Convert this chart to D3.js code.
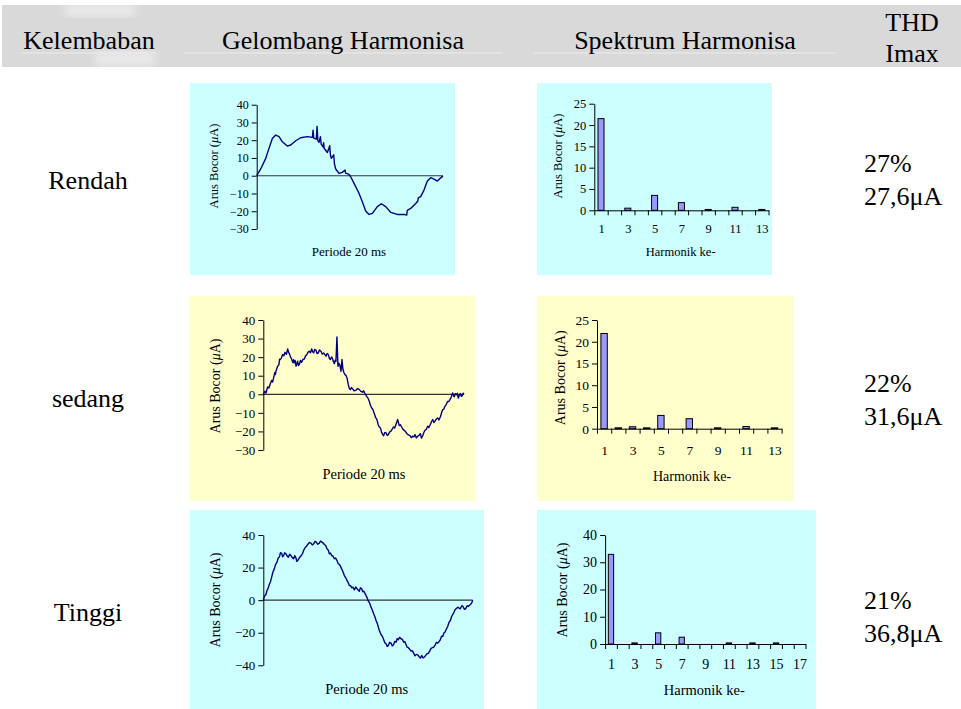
<!DOCTYPE html>
<html lang="id">
<head>
<meta charset="utf-8">
<title>Gelombang dan Spektrum Harmonisa Arus Bocor</title>
<script src="https://d3js.org/d3.v7.min.js"></script>
<style>
  body { margin: 0; background: #fff; }
  svg text { font-family: "Liberation Serif", "Times New Roman", serif; }
</style>
</head>
<body>
<svg id="chart" width="961" height="709" font-family="Liberation Serif, Times New Roman, serif"></svg>
<script>
// ---- data ----
const rowLabels = ["Rendah", "sedang", "Tinggi"];
const thdValues = ["27%", "22%", "21%"];
const imaxValues = ["27,6\u03bcA", "31,6\u03bcA", "36,8\u03bcA"];
const headerLabels = ["Kelembaban", "Gelombang Harmonisa", "Spektrum Harmonisa"];

// waveform: [time in ms, current in uA]
const waveRendah = [[0,0],[0.43,3.8],[0.97,9.8],[1.32,15.4],[1.68,21],[2.04,22.9],[2.4,22],[2.75,19.1],[3.29,16.7],[3.65,17.3],[4.19,19.7],[4.72,21.4],[5.44,22],[5.98,21.6],[6.05,25.7],[6.12,21.2],[6.4,20.6],[6.48,27.8],[6.56,19.8],[6.69,18.8],[6.84,22],[6.92,17.8],[7.12,16.2],[7.18,18.6],[7.25,15.3],[7.59,13.1],[7.84,16.9],[7.92,11.5],[8.01,9.8],[8.27,11.8],[8.35,6.5],[8.48,3.8],[8.84,1.3],[9.19,1.9],[9.48,3.2],[9.55,1.5],[9.91,0.8],[10.09,-0.6],[10.45,-4.3],[10.98,-9.9],[11.34,-14.6],[11.7,-19.9],[12.06,-21.8],[12.42,-21.2],[12.95,-17.4],[13.38,-15.8],[13.85,-17.4],[14.38,-20.6],[15.1,-21.8],[15.81,-21.8],[16.1,-22.2],[16.17,-19.5],[16.53,-18.4],[17.07,-15.6],[17.3,-14.2],[17.35,-12.5],[17.6,-11.8],[17.96,-8.1],[18.32,-3],[18.68,-1.1],[19.04,-1.9],[19.39,-3],[19.68,-1.5],[20,-0.2]];
const waveSedang = [[0,0],[0.17,1.6],[0.27,0.7],[0.43,4],[0.56,3.4],[0.7,5.7],[0.83,7.5],[0.93,6.6],[1.03,8.8],[1.15,11.8],[1.2,10.6],[1.26,12.4],[1.43,15.1],[1.56,16],[1.62,18.9],[1.69,18.7],[1.8,19.5],[1.93,21.4],[2.05,20.8],[2.16,22.6],[2.3,21.5],[2.43,24.4],[2.52,22.6],[2.59,21.9],[2.7,20.3],[2.82,19],[2.95,17.1],[3.02,18.6],[3.09,16.9],[3.18,18.2],[3.26,15.1],[3.35,16.5],[3.42,17.8],[3.5,15.5],[3.59,16],[3.7,18.2],[3.82,17.2],[3.95,18.8],[4.09,19],[4.2,20.6],[4.35,21.4],[4.45,22.6],[4.58,23.2],[4.7,22.4],[4.82,24.4],[4.92,22.9],[5.02,22.3],[5.12,24.2],[5.25,23.7],[5.35,21.9],[5.48,22.3],[5.6,23.8],[5.75,23.2],[5.88,21.6],[6.01,22.3],[6.12,21.5],[6.25,20.5],[6.36,22],[6.48,21.4],[6.58,19.4],[6.68,18.7],[6.8,20.1],[6.91,19],[7.0,17.4],[7.08,16.5],[7.16,18.3],[7.24,17.8],[7.34,30.9],[7.44,15.1],[7.52,16.8],[7.61,16],[7.68,14.2],[7.74,12.4],[7.84,18.7],[7.94,13.3],[8.04,11.6],[8.14,10.6],[8.24,10.2],[8.34,8.8],[8.4,7.2],[8.47,5.2],[8.57,3.2],[8.67,2.5],[8.78,3.6],[8.9,2.9],[9.05,1.8],[9.24,2.2],[9.4,3.1],[9.57,2.5],[9.72,1.6],[9.9,1.1],[10.0,1.9],[10.13,0.4],[10.23,-0.5],[10.33,-1.4],[10.45,-2.2],[10.56,-3.8],[10.68,-5.9],[10.8,-7.4],[10.92,-8.2],[11.06,-10.4],[11.2,-12.6],[11.33,-13.6],[11.45,-16.4],[11.56,-17.6],[11.68,-18.2],[11.79,-20.5],[11.89,-21.6],[11.99,-22.3],[12.1,-20.6],[12.23,-20.8],[12.35,-22.1],[12.46,-21.7],[12.6,-20.2],[12.72,-19.9],[12.85,-18.7],[12.99,-17.6],[13.1,-18.2],[13.22,-16.3],[13.39,-13.6],[13.55,-16.9],[13.67,-16.4],[13.79,-17.6],[13.92,-18.9],[14.05,-19.4],[14.2,-20.3],[14.32,-21.2],[14.47,-21.9],[14.62,-22.3],[14.75,-23.4],[14.88,-22.6],[15.0,-22.9],[15.12,-21.7],[15.25,-23.5],[15.38,-22.6],[15.52,-22.1],[15.65,-21.2],[15.76,-23.6],[15.88,-22.3],[16.0,-20.6],[16.11,-19.4],[16.25,-18.8],[16.38,-17.2],[16.5,-17.9],[16.64,-16.3],[16.76,-14.8],[16.88,-13.6],[17.0,-15.2],[17.11,-14.5],[17.24,-13.4],[17.37,-12.7],[17.5,-13.8],[17.64,-12.2],[17.76,-10.1],[17.87,-8.3],[17.98,-8.1],[18.1,-6.5],[18.24,-5.4],[18.37,-3.8],[18.5,-3.9],[18.64,-2.5],[18.75,-1.2],[18.87,0.7],[19.03,-1.4],[19.13,0.3],[19.23,-0.2],[19.33,0.5],[19.43,-2],[19.53,-0.6],[19.63,0.4],[19.73,-1.1],[19.83,-0.7],[19.92,0.6],[20,0]];
const waveTinggi = [[0,0],[0.08,1.8],[0.16,2.9],[0.25,3.5],[0.35,5.9],[0.46,7.2],[0.57,9.6],[0.68,11.2],[0.8,14.1],[0.92,17.3],[1.05,19.2],[1.18,22],[1.31,23.3],[1.42,25.9],[1.53,26.4],[1.64,29.2],[1.75,28.8],[1.85,26.6],[1.94,27.4],[2.05,29.1],[2.17,28.4],[2.28,27.1],[2.39,26.4],[2.52,28.2],[2.64,27.4],[2.77,26.1],[2.9,25.4],[3.0,27.3],[3.12,26],[3.2,23.8],[3.28,24.3],[3.4,25.5],[3.54,26.8],[3.65,27.6],[3.76,28.8],[3.87,30.8],[3.98,32.1],[4.1,32.9],[4.24,34.2],[4.4,35.4],[4.55,35],[4.68,33.9],[4.81,34.6],[4.94,36.1],[5.06,35.6],[5.2,34.3],[5.35,35],[5.46,36.3],[5.57,35.8],[5.7,35.2],[5.83,34.2],[5.96,33.5],[6.08,31.5],[6.2,30.8],[6.31,28.4],[6.42,28.9],[6.53,27.4],[6.65,27.1],[6.78,25.4],[6.9,25.9],[7.04,24.3],[7.15,22.5],[7.26,21.9],[7.37,20.9],[7.48,19.2],[7.6,17.6],[7.74,15.1],[7.86,13.9],[7.99,12.1],[8.1,10.9],[8.22,9],[8.33,8.9],[8.44,7.6],[8.57,7.9],[8.7,6.3],[8.82,8.1],[8.95,7],[9.06,6.2],[9.17,5.5],[9.28,7.6],[9.4,7],[9.5,5.2],[9.59,5.5],[9.7,4.3],[9.81,2.9],[9.92,1.4],[10.03,-0.6],[10.16,-1.9],[10.29,-4.3],[10.42,-6.2],[10.54,-8.4],[10.66,-10.2],[10.77,-12.5],[10.88,-14.1],[10.99,-16.6],[11.12,-19.3],[11.24,-21.1],[11.37,-22.2],[11.5,-24.3],[11.61,-26.1],[11.72,-26.8],[11.83,-28.4],[11.94,-27.8],[12.07,-25.9],[12.2,-26.4],[12.32,-28.1],[12.45,-27.2],[12.56,-25.3],[12.68,-25.8],[12.79,-23.6],[12.9,-24.3],[13.02,-22.8],[13.15,-23.7],[13.28,-24.1],[13.41,-25.8],[13.52,-25.4],[13.63,-27.2],[13.74,-28.9],[13.85,-29.2],[13.98,-30.1],[14.11,-31.3],[14.24,-31.1],[14.36,-32.5],[14.49,-34.2],[14.62,-33.3],[14.75,-33.6],[14.87,-34.6],[15.0,-35.6],[15.13,-34],[15.25,-35.4],[15.38,-35],[15.51,-33.9],[15.64,-32.9],[15.76,-32.7],[15.89,-31.3],[16.02,-29.6],[16.15,-29.2],[16.28,-28.9],[16.4,-27.8],[16.53,-25.9],[16.66,-26.4],[16.78,-25.5],[16.91,-24.3],[17.02,-22.1],[17.14,-22.3],[17.25,-20.2],[17.36,-19.6],[17.48,-17.9],[17.61,-16.2],[17.74,-13.6],[17.87,-12.5],[17.98,-10.2],[18.09,-8.8],[18.2,-7.6],[18.31,-5.9],[18.44,-5.1],[18.57,-4.3],[18.7,-4.9],[18.82,-5.3],[18.95,-3.4],[19.08,-3.9],[19.2,-5.6],[19.33,-5.3],[19.46,-3.4],[19.59,-3.9],[19.68,-3.2],[19.78,-2.7],[19.9,-1.8],[20,0]];

// spectrum: harmonic order and amplitude in uA
const orderRendah = [1,2,3,4,5,6,7,8,9,10,11,12,13];
const specRendah  = [21.5,0,0.5,0,3.5,0,1.8,0,0.2,0,0.7,0,0.2];
const orderSedang = [1,2,3,4,5,6,7,8,9,10,11,12,13];
const specSedang  = [21.9,0.2,0.45,0.2,3.05,0,2.3,0,0.2,0,0.5,0,0.2];
const orderTinggi = [1,2,3,4,5,6,7,8,9,10,11,12,13,14,15,16,17];
const specTinggi  = [32.9,0,0.4,0,4.1,0,2.5,0,0,0,0.4,0,0.4,0,0.4,0,0];

const waveTicksRendah = [-30,-20,-10,0,10,20,30,40];
const waveTicksTinggi = [-40,-20,0,20,40];
const specTicks25 = [0,5,10,15,20,25];
const specTicks40 = [0,10,20,30,40];

const svg = d3.select("#chart");
const CYAN = "#ccffff", YELLOW = "#ffffcc";
const SERIF = "Liberation Serif, Times New Roman, serif";

// ---- header ----
svg.append("rect").attr("x", 2).attr("y", 5).attr("width", 959).attr("height", 62).attr("fill", "#d9d9d9");
const defs = svg.append("defs");
defs.append("filter").attr("id", "blur").append("feGaussianBlur").attr("stdDeviation", 5);
svg.append("rect").attr("x", 65).attr("y", 4).attr("width", 70).attr("height", 12).attr("fill", "#fff").attr("opacity", 0.5).attr("filter", "url(#blur)");
svg.append("rect").attr("x", 95).attr("y", 52).attr("width", 60).attr("height", 14).attr("fill", "#fff").attr("opacity", 0.45).attr("filter", "url(#blur)");
[[21,156],[184,502],[533,836]].forEach(function(s){
  svg.append("line").attr("x1", s[0]).attr("x2", s[1]).attr("y1", 53).attr("y2", 53)
    .attr("stroke", "#ececec").attr("stroke-width", 1);
});
const headerX = [89, 343, 685];
headerLabels.forEach(function(t, i){
  svg.append("text").attr("x", headerX[i]).attr("y", 49).attr("text-anchor", "middle")
    .attr("font-family", SERIF).attr("font-size", 26).text(t);
});
svg.append("text").attr("x", 912).attr("y", 31).attr("text-anchor", "middle").attr("font-family", SERIF).attr("font-size", 26).text("THD");
svg.append("text").attr("x", 912).attr("y", 62).attr("text-anchor", "middle").attr("font-family", SERIF).attr("font-size", 26).text("Imax");

// ---- row labels and THD / Imax ----
const rowY = [189, 407, 621];
const thdY = [172, 392, 609];
rowLabels.forEach(function(t, i){
  svg.append("text").attr("x", 88).attr("y", rowY[i]).attr("text-anchor", "middle").attr("font-family", SERIF).attr("font-size", 26).text(t);
  svg.append("text").attr("x", 864).attr("y", thdY[i]).attr("font-family", SERIF).attr("font-size", 26).text(thdValues[i]);
  svg.append("text").attr("x", 864).attr("y", thdY[i] + 33).attr("font-family", SERIF).attr("font-size", 26).text(imaxValues[i]);
});

function yTitle(g, x, y, fs) {
  const t = g.append("text").attr("transform", "translate(" + x + "," + y + ") rotate(-90)")
    .attr("text-anchor", "middle").attr("dominant-baseline", "middle").attr("font-size", fs);
  t.append("tspan").text("Arus Bocor (");
  t.append("tspan").attr("font-style", "italic").text("\u03bc");
  t.append("tspan").text("A)");
}

function styleAxis(a, fs) {
  a.attr("font-family", SERIF).attr("font-size", fs);
  a.selectAll("text").attr("fill", "#000");
  a.selectAll("path, line").attr("stroke", "#000");
}

// ---- waveform panel ----
function drawWave(p, data, ticks) {
  const g = svg.append("g");
  g.append("rect").attr("x", p.box[0]).attr("y", p.box[1]).attr("width", p.box[2]).attr("height", p.box[3]).attr("fill", p.bg);
  const x = d3.scaleLinear().domain([0, 20]).range([p.x0, p.x1]);
  const y = d3.scaleLinear().domain([ticks[0], ticks[ticks.length - 1]]).range([p.yb, p.yt]);
  g.append("line").attr("x1", x(0)).attr("x2", x(20)).attr("y1", y(0)).attr("y2", y(0))
    .attr("stroke", "#333").attr("stroke-width", 1.2);
  const ax = g.append("g").attr("transform", "translate(" + p.x0 + ",0)")
    .call(d3.axisLeft(y).tickValues(ticks).tickSize(5).tickSizeOuter(0).tickPadding(3));
  styleAxis(ax, p.fs);
  g.append("path").datum(data)
    .attr("d", d3.line().x(function(d){ return x(d[0]); }).y(function(d){ return y(d[1]); }))
    .attr("fill", "none").attr("stroke", "#000080").attr("stroke-width", p.lw).attr("stroke-linejoin", "round");
  yTitle(g, p.tx, p.ty, p.tfs);
  g.append("text").attr("x", p.lx).attr("y", p.ly).attr("text-anchor", "middle").attr("font-size", p.lfs).text("Periode 20 ms");
}

// ---- spectrum panel ----
function drawSpectrum(p, orders, values, ticks) {
  const g = svg.append("g");
  g.append("rect").attr("x", p.box[0]).attr("y", p.box[1]).attr("width", p.box[2]).attr("height", p.box[3]).attr("fill", p.bg);
  const n = orders.length;
  const xb = d3.scaleBand().domain(orders).range([p.x0, p.x1]).paddingInner(0.55).paddingOuter(0.275);
  const xl = d3.scaleLinear().domain([0.5, n + 0.5]).range([p.x0, p.x1]);
  const y = d3.scaleLinear().domain([0, ticks[ticks.length - 1]]).range([p.yb, p.yt]);
  g.selectAll("rect.bar").data(orders.filter(function(o, i){ return values[i] > 0; }))
    .enter().append("rect").attr("class", "bar")
    .attr("x", function(o){ return xb(o); })
    .attr("width", xb.bandwidth())
    .attr("y", function(o){ return y(values[orders.indexOf(o)]); })
    .attr("height", function(o){ return p.yb - y(values[orders.indexOf(o)]); })
    .attr("fill", "#9999ff").attr("stroke", "#000").attr("stroke-width", 1);
  const bounds = d3.range(n + 1).map(function(i){ return i + 0.5; });
  const xa = g.append("g").attr("transform", "translate(0," + p.yb + ")")
    .call(d3.axisBottom(xl).tickValues(bounds).tickFormat("").tickSize(5).tickSizeOuter(0));
  styleAxis(xa, p.fs);
  const xt = g.append("g").attr("transform", "translate(0," + p.yb + ")")
    .call(d3.axisBottom(xl).tickValues(orders.filter(function(o){ return o % 2 === 1; })).tickSize(0).tickPadding(p.pad));
  styleAxis(xt, p.fs);
  xt.select(".domain").remove();
  const ax = g.append("g").attr("transform", "translate(" + p.x0 + ",0)")
    .call(d3.axisLeft(y).tickValues(ticks).tickSize(5).tickSizeOuter(0).tickPadding(3));
  styleAxis(ax, p.fs);
  yTitle(g, p.tx, p.ty, p.tfs);
  g.append("text").attr("x", p.lx).attr("y", p.ly).attr("text-anchor", "middle").attr("font-size", p.lfs).text("Harmonik ke-");
}

drawWave({box:[190,83,265,192], bg:CYAN, x0:256.7, x1:443, yb:229, yt:104.7, fs:12, lw:1.4,
  tx:215, ty:166, tfs:12.5, lx:349, ly:256, lfs:13}, waveRendah, waveTicksRendah);
drawSpectrum({box:[537,83,235,192], bg:CYAN, x0:594.3, x1:768.5, yb:210.3, yt:103.7, fs:12.5, pad:13.8,
  tx:558.7, ty:156, tfs:12.5, lx:680.7, ly:256, lfs:12.5}, orderRendah, specRendah, specTicks25);

drawWave({box:[190,296,285,205], bg:YELLOW, x0:263.3, x1:464, yb:450, yt:320, fs:13, lw:1.4,
  tx:216.7, ty:386, tfs:14, lx:364, ly:479, lfs:14.5}, waveSedang, waveTicksRendah);
drawSpectrum({box:[537,296,257,205], bg:YELLOW, x0:597, x1:781.6, yb:428.7, yt:320, fs:13.5, pad:16.7,
  tx:562, ty:377.7, tfs:14, lx:692, ly:481, lfs:14}, orderSedang, specSedang, specTicks25);

drawWave({box:[190,510,294,199], bg:CYAN, x0:263.3, x1:472.7, yb:665.3, yt:535, fs:13, lw:1.4,
  tx:216.7, ty:600, tfs:14, lx:366.7, ly:694, lfs:14.5}, waveTinggi, waveTicksTinggi);
drawSpectrum({box:[537,510,279,199], bg:CYAN, x0:605.1, x1:805.5, yb:644, yt:535, fs:14, pad:15,
  tx:563.7, ty:590, tfs:14, lx:704.3, ly:695, lfs:14.5}, orderTinggi, specTinggi, specTicks40);
</script>
</body>
</html>
